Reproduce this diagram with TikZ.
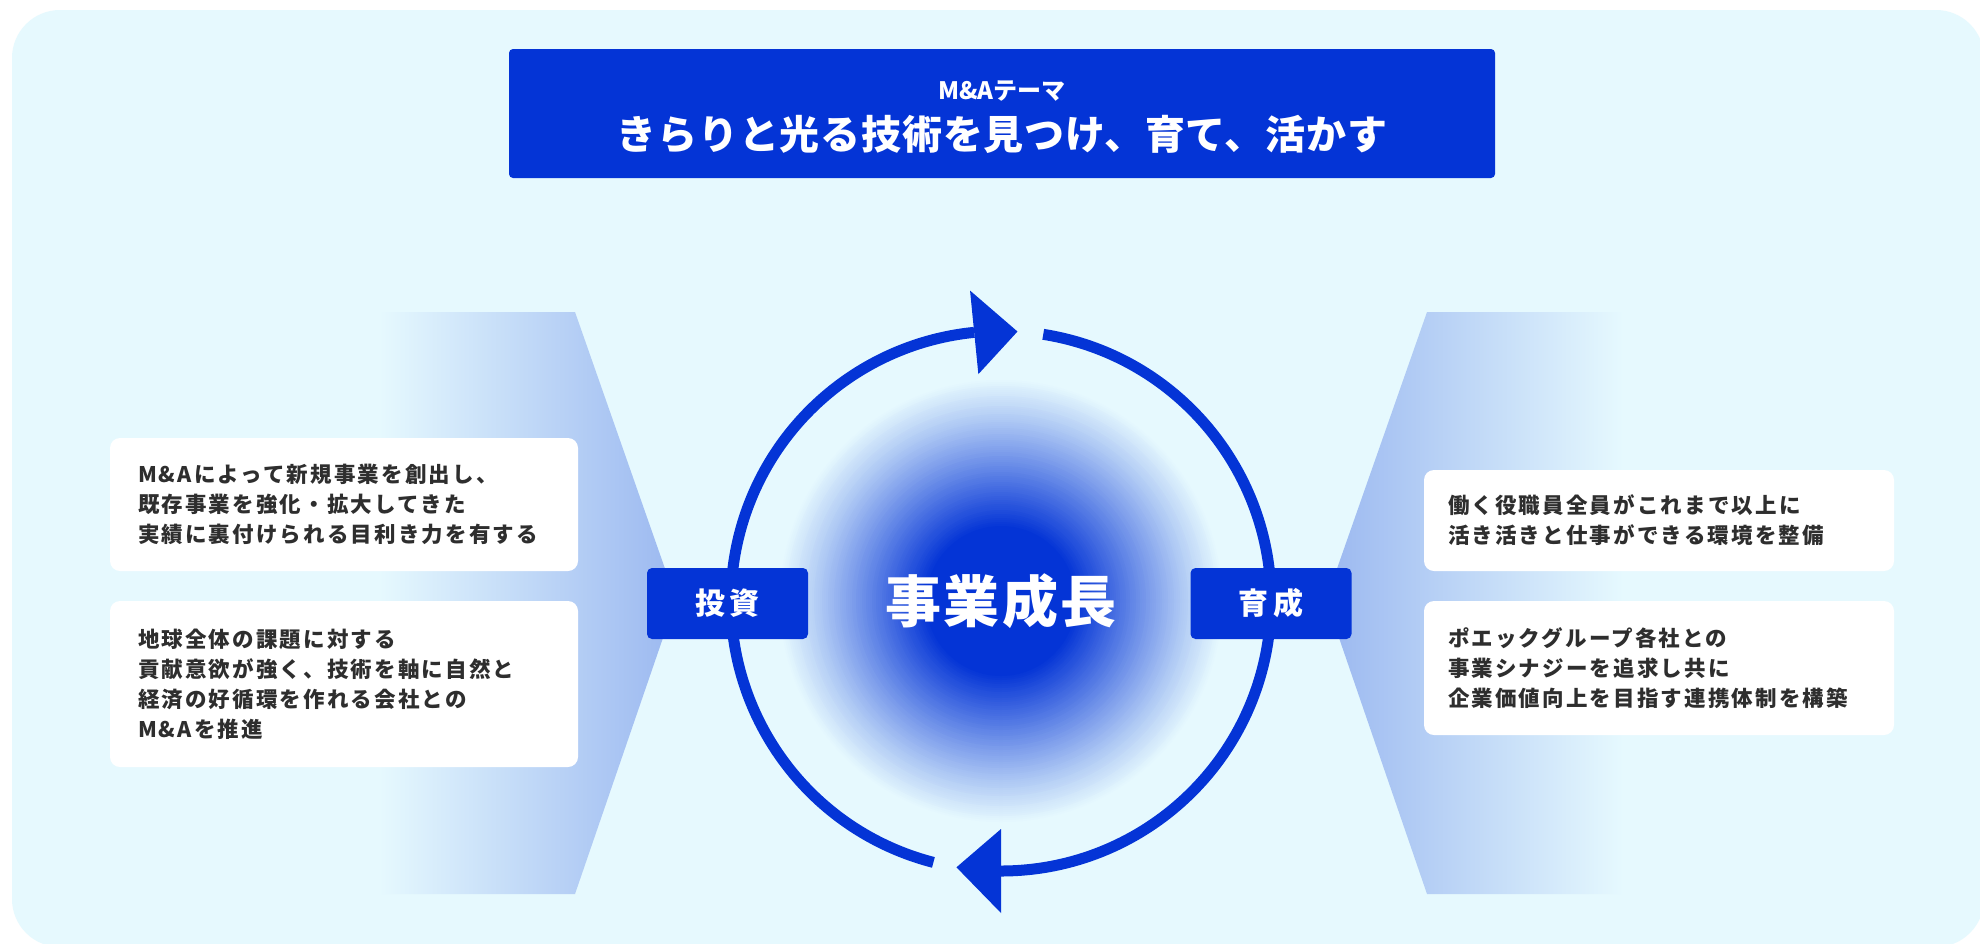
\documentclass[tikz,border=0pt]{standalone}
\usepackage{fontspec}
\setmainfont{Noto Sans CJK JP}
\newfontfamily\jpbody{Noto Sans CJK JP}[LetterSpace=10]
\newfontfamily\jptitle{Noto Sans CJK JP}[LetterSpace=2]
\newfontfamily\jptag{Noto Sans CJK JP}[LetterSpace=14]
\newfontfamily\jpcenter{Noto Sans CJK JP}[LetterSpace=4]
\usetikzlibrary{calc}
\definecolor{bg}{HTML}{E6F9FE}
\definecolor{mainblue}{HTML}{0434D6}
\definecolor{fanblue}{HTML}{9BB8F0}
\definecolor{txtgray}{HTML}{2E2E2E}
\tikzset{
  ring/.style={draw=mainblue, line width=11pt, line cap=butt},
  head/.style={fill=mainblue},
  tagbox/.style={fill=mainblue, rounded corners=5pt, minimum width=161pt, minimum height=71pt, inner sep=0pt, text=white, font=\jptag\bfseries\fontsize{30}{32}\selectfont},
  card/.style={fill=white, rounded corners=10pt, inner sep=0pt},
  cardtext/.style={anchor=west, align=left, inner sep=0pt, text=txtgray, font=\jpbody\bfseries\fontsize{21.5}{30}\selectfont},
}
\begin{document}
\begin{tikzpicture}[x=1pt, y=-1pt]
\useasboundingbox (0,0) rectangle (1980,943);
\fill[white] (0,0) rectangle (1980,943);
\fill[bg, rounded corners=48pt] (12,10) rectangle (1984,947);
% fans
\shade[left color=bg, right color=fanblue] (379,312) -- (575,312) -- (676,600) -- (575,894) -- (379,894) -- cycle;
\shade[left color=fanblue, right color=bg] (1326,600) -- (1427,312) -- (1623,312) -- (1623,894) -- (1427,894) -- cycle;
% title
\node[fill=mainblue, rounded corners=4pt, minimum width=986pt, minimum height=129pt, inner sep=0pt] (title) at (1002,113.5) {};
\node[text=white, inner sep=0pt, font=\bfseries\fontsize{24}{26}\selectfont] (theme) at (1002,91) {M\&Aテーマ};
\node[text=white, inner sep=0pt, font=\jptitle\bfseries\fontsize{40}{44}\selectfont] (slogan) at (1002,134) {きらりと光る技術を見つけ、育て、活かす};
% cards
\node[card, minimum width=468pt, minimum height=133pt] (c1) at (344,504.5) {};
\node[card, minimum width=468pt, minimum height=166pt] (c2) at (344,684) {};
\node[card, minimum width=470pt, minimum height=101pt] (c3) at (1659,520.5) {};
\node[card, minimum width=470pt, minimum height=134pt] (c4) at (1659,668) {};
\node[cardtext] (t1) at ([xshift=28pt]c1.west) {M\&Aによって新規事業を創出し、\\既存事業を強化・拡大してきた\\実績に裏付けられる目利き力を有する};
\node[cardtext] (t2) at ([xshift=28pt]c2.west) {地球全体の課題に対する\\貢献意欲が強く、技術を軸に自然と\\経済の好循環を作れる会社との\\M\&Aを推進};
\node[cardtext] (t3) at ([xshift=24pt]c3.west) {働く役職員全員がこれまで以上に\\活き活きと仕事ができる環境を整備};
\node[cardtext] (t4) at ([xshift=24pt]c4.west) {ポエックグループ各社との\\事業シナジーを追求し共に\\企業価値向上を目指す連携体制を構築};
% glow and cycle
\coordinate (c) at (1001,601);
\foreach \i in {0,...,75} {
  \pgfmathsetmacro\rr{225-2*\i}
  \pgfmathtruncatemacro\pp{100*((\i/75)^1.1)}
  \fill[mainblue!\pp!bg] (c) circle[radius=\rr];
}
\draw[ring] ($(c)+(104.5:270)$) arc[start angle=104.5, end angle=264.3, radius=270];
\draw[ring] ($(c)+(279:270)$) arc[start angle=279, end angle=450, radius=270];
\fill[head] ($(c)+(264.3:228)$) -- ($(c)+(264.3:312)$) -- ($(c)+(273.5:270)$) -- cycle;
\fill[head] ($(c)+(90:228)$) -- ($(c)+(90:312)$) -- ($(c)+(99.5:270)$) -- cycle;
\node[text=white, inner sep=0pt, font=\jpcenter\bfseries\fontsize{56}{60}\selectfont] (growth) at (c) {事業成長};
% tags
\node[tagbox] (invest) at (727.5,603.5) {投資};
\node[tagbox] (nurture) at (1271,603.5) {育成};
\end{tikzpicture}
\end{document}
